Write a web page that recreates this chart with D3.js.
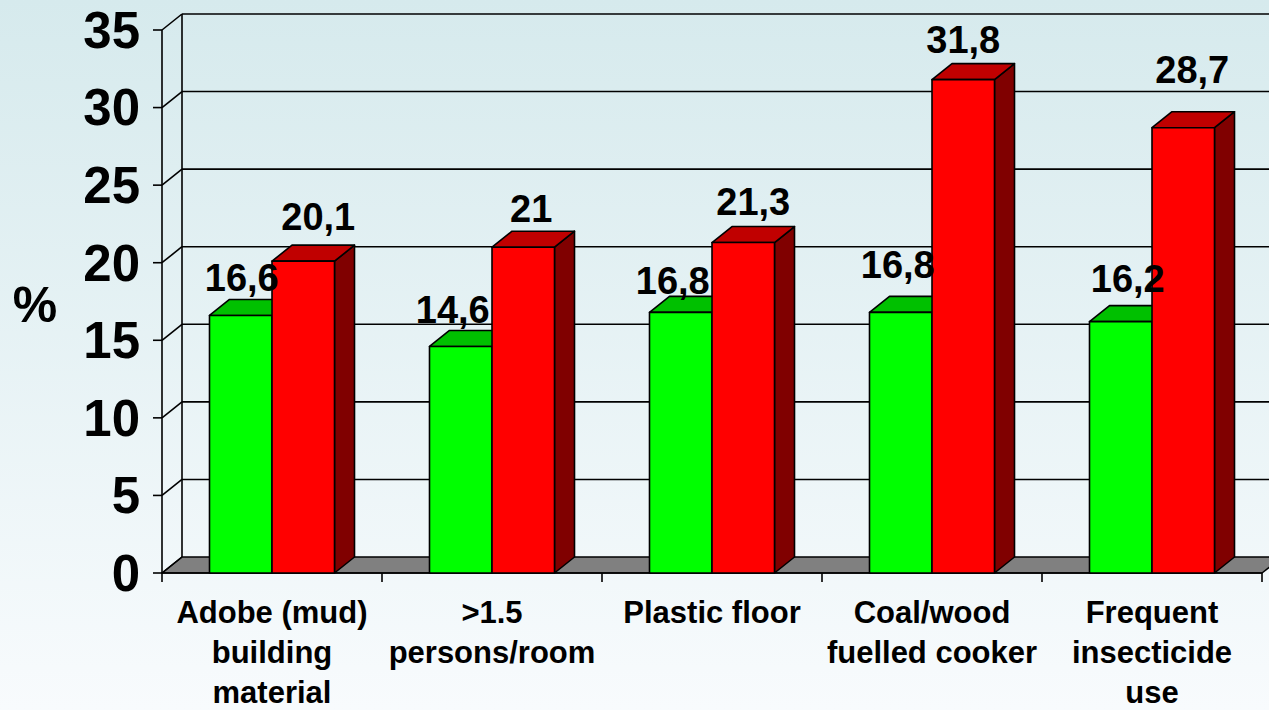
<!DOCTYPE html>
<html>
<head>
<meta charset="utf-8">
<script src="https://cdn.jsdelivr.net/npm/d3@7"></script>
<style>
  html, body { margin: 0; padding: 0; overflow: hidden; }
  svg { display: block; font-family: "Liberation Sans", Arial, sans-serif; font-weight: bold; }
</style>
</head>
<body>
<svg id="chart" width="1269" height="710"></svg>
<script>
// Household risk factors: share (%) in two groups
const categories = ["Adobe (mud)\nbuilding\nmaterial", ">1.5\npersons/room", "Plastic floor", "Coal/wood\nfuelled cooker", "Frequent\ninsecticide\nuse"];
const seriesGreen = [16.6, 14.6, 16.8, 16.8, 16.2];
const seriesRed = [20.1, 21, 21.3, 31.8, 28.7];
const yTicks = [0, 5, 10, 15, 20, 25, 30, 35];
const yLabel = "%";

// hand-placed nudges [dx, dy] for the value labels
const nudgeGreen = [[1, 2], [-8, 3], [-8, 8], [-3, -8], [7, -4]];
const nudgeRed = [[15, -5], [8, 1], [10, -2], [0, -1], [9, -19]];

const W = 1269, H = 710;
const svg = d3.select("#chart");

// 3D depth offset of the back wall
const DX = 20, DY = -16;

const x = d3.scaleBand().domain(d3.range(categories.length)).range([162, 1262]);
const inner = d3.scaleBand().domain(["g", "r"]).range([0, x.bandwidth()]).paddingInner(0).paddingOuter(0.76);
const y = d3.scaleLinear().domain([0, 35]).range([573, 30]);

// background gradient
const defs = svg.append("defs");
const grad = defs.append("linearGradient").attr("id", "bg").attr("x1", 0).attr("y1", 0).attr("x2", 0).attr("y2", 1);
grad.append("stop").attr("offset", "0%").attr("stop-color", "#d6eaed");
grad.append("stop").attr("offset", "100%").attr("stop-color", "#f8fbfd");
svg.append("rect").attr("width", W).attr("height", H).attr("fill", "url(#bg)");

const x0 = x.range()[0], x1 = x.range()[1];
const yTop = y(35), yBase = y(0);
const line = (g, pts) => g.append("path").attr("d", d3.line()(pts)).attr("fill", "none").attr("stroke", "#000").attr("stroke-width", 1.6);

const walls = svg.append("g");

// floor
walls.append("path")
  .attr("d", d3.line()([[x0, yBase], [x0 + DX, yBase + DY], [x1 + DX, yBase + DY], [x1, yBase]]) + "Z")
  .attr("fill", "#808080").attr("stroke", "#000").attr("stroke-width", 1.6).attr("stroke-linejoin", "round");

// gridlines on back wall and side wall
yTicks.forEach(t => {
  const yf = y(t);
  if (t > 0) line(walls, [[x0 + DX, yf + DY], [W + 5, yf + DY]]);
  line(walls, [[x0, yf], [x0 + DX, yf + DY]]);
  line(walls, [[x0 - 9, yf], [x0, yf]]);
});
line(walls, [[x0 + DX, yTop + DY], [x0 + DX, yBase + DY]]);
line(walls, [[x0, yTop], [x0, yBase + 9]]);
line(walls, [[x0, yBase], [x1, yBase]]);

// category ticks
x.domain().forEach(i => line(walls, [[x(i) + x.bandwidth(), yBase], [x(i) + x.bandwidth(), yBase + 9]]));

// y tick labels
svg.append("g").selectAll("text").data(yTicks).join("text")
  .attr("x", 140).attr("y", d => y(d)).attr("dy", "0.35em")
  .attr("text-anchor", "end").attr("font-size", 51).attr("fill", "#000")
  .text(d => d);

svg.append("text").attr("x", 35).attr("y", 322).attr("text-anchor", "middle")
  .attr("font-size", 50).attr("fill", "#000").text(yLabel);

// 3D bars
const palettes = {
  g: { front: "#00ff00", top: "#00c000", side: "#008000" },
  r: { front: "#ff0000", top: "#c00000", side: "#800000" }
};
const fmt = v => String(v).replace(".", ",");

const bars = svg.append("g");
categories.forEach((c, i) => {
  [["g", seriesGreen[i]], ["r", seriesRed[i]]].forEach(([k, v]) => {
    const bx = x(i) + inner(k), bw = inner.bandwidth();
    const yt = y(v), pal = palettes[k];
    const g = bars.append("g").attr("stroke", "#000").attr("stroke-width", 1.6).attr("stroke-linejoin", "round");
    g.append("path").attr("fill", pal.side)
      .attr("d", d3.line()([[bx + bw, yt], [bx + bw + DX, yt + DY], [bx + bw + DX, yBase + DY], [bx + bw, yBase]]) + "Z");
    g.append("path").attr("fill", pal.top)
      .attr("d", d3.line()([[bx, yt], [bx + DX, yt + DY], [bx + bw + DX, yt + DY], [bx + bw, yt]]) + "Z");
    g.append("rect").attr("x", bx).attr("y", yt).attr("width", bw).attr("height", yBase - yt).attr("fill", pal.front);
  });
});

// value labels
const labels = svg.append("g").attr("font-size", 38).attr("text-anchor", "middle").attr("fill", "#000");
categories.forEach((c, i) => {
  [["g", seriesGreen[i], nudgeGreen[i]], ["r", seriesRed[i], nudgeRed[i]]].forEach(([k, v, n]) => {
    labels.append("text")
      .attr("x", x(i) + inner(k) + inner.bandwidth() / 2 + n[0])
      .attr("y", y(v) - 26 + n[1])
      .text(fmt(v));
  });
});

// category labels
const cat = svg.append("g").attr("font-size", 31).attr("text-anchor", "middle").attr("fill", "#000");
categories.forEach((c, i) => {
  const t = cat.append("text").attr("x", x(i) + x.bandwidth() / 2).attr("y", 623);
  c.split("\n").forEach((ln, j) => {
    t.append("tspan").attr("x", x(i) + x.bandwidth() / 2).attr("y", 623 + j * 40).text(ln);
  });
});
</script>
</body>
</html>
